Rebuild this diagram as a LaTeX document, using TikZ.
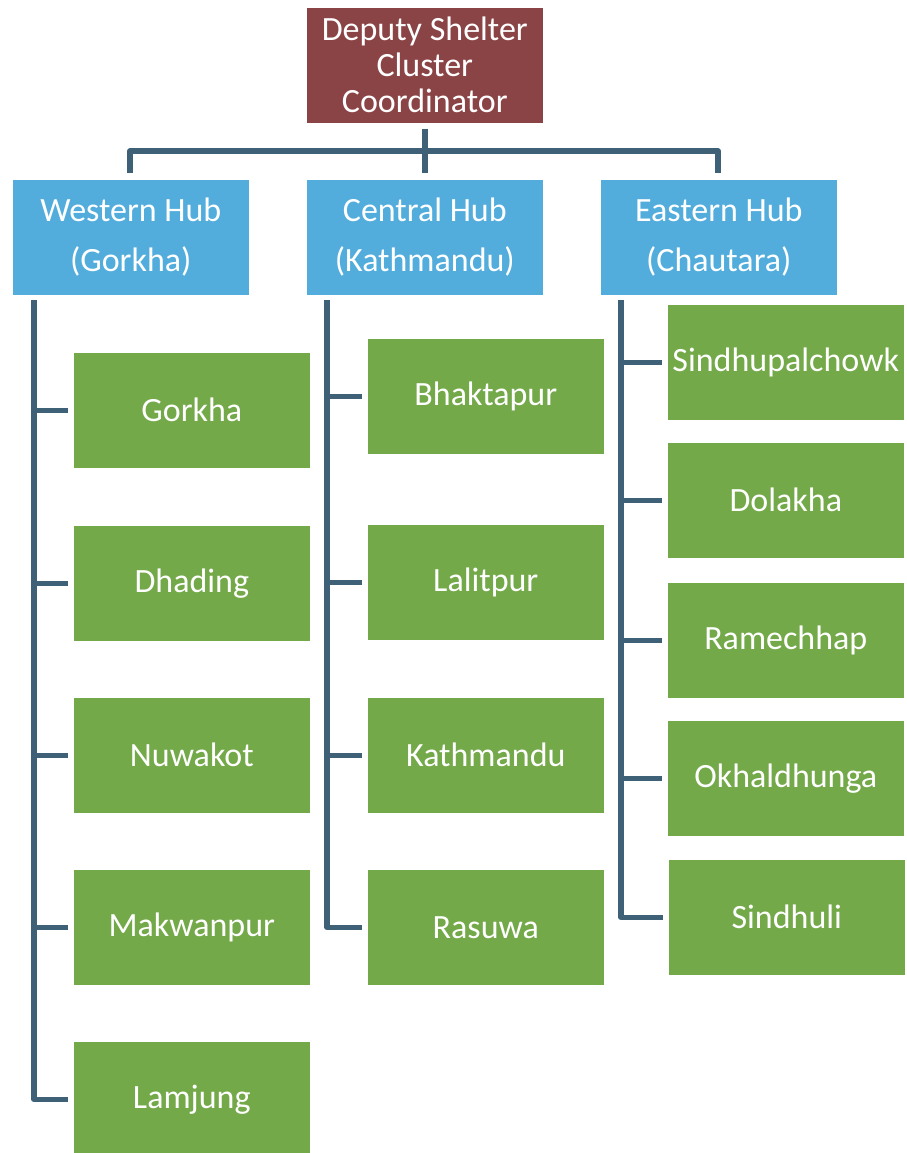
\documentclass[tikz,border=0pt]{standalone}
\usepackage{fontspec}
\setmainfont{Carlito}
\definecolor{maroon}{HTML}{8A4446}
\definecolor{hubblue}{HTML}{52ADDC}
\definecolor{distgreen}{HTML}{74A94A}
\definecolor{linec}{HTML}{3E6177}
\begin{document}
\begin{tikzpicture}[x=1pt,y=-1pt,
  boxbase/.style={anchor=north west,minimum width=237pt,minimum height=116pt,inner sep=0pt,draw=white,line width=0.6pt,text=white,align=center,font=\fontsize{34}{36}\selectfont},
  topbox/.style={boxbase,fill=maroon},
  hubbox/.style={boxbase,fill=hubblue},
  distbox/.style={boxbase,fill=distgreen},
  conn/.style={draw=linec,line width=5.5pt,line join=round}]
\useasboundingbox (0,0) rectangle (906,1153);
% top
\node[topbox] (top) at (306,7) {Deputy Shelter\\Cluster\\Coordinator};
% hubs
\node[hubbox] (west) at (12,179) {Western Hub\\[14pt](Gorkha)};
\node[hubbox] (cent) at (306,179) {Central Hub\\[14pt](Kathmandu)};
\node[hubbox] (east) at (600,179) {Eastern Hub\\[14pt](Chautara)};
% western districts
\node[distbox] (w1) at (73,352) {Gorkha};
\node[distbox] (w2) at (73,525) {Dhading};
\node[distbox] (w3) at (73,697) {Nuwakot};
\node[distbox] (w4) at (73,869) {Makwanpur};
\node[distbox] (w5) at (73,1041) {Lamjung};
% central districts
\node[distbox] (c1) at (367,338) {Bhaktapur};
\node[distbox] (c2) at (367,524) {Lalitpur};
\node[distbox] (c3) at (367,697) {Kathmandu};
\node[distbox] (c4) at (367,869) {Rasuwa};
% eastern districts
\node[distbox] (e1) at (667,304) {Sindhupalchowk};
\node[distbox] (e2) at (667,442) {Dolakha};
\node[distbox] (e3) at (667,582) {Ramechhap};
\node[distbox] (e4) at (667,720) {Okhaldhunga};
\node[distbox] (e5) at (668,859) {Sindhuli};
% top connectors
\draw[conn] ([yshift=-5pt]top.south) -- ([yshift=6pt]cent.north);
\draw[conn] ([yshift=6pt]west.north -| 130,0) -- (130,151) -- (718,151) -- ([yshift=6pt]east.north -| 718,0);
% western
\coordinate (wtop) at (34,300);
\draw[conn] (wtop) -- (34,0 |- w5.west) -- ([xshift=-5pt]w5.west);
\foreach \n in {w1,w2,w3,w4} \draw[conn] (34,0 |- \n.west) -- ([xshift=-5pt]\n.west);
% central
\coordinate (ctop) at (327,300);
\draw[conn] (ctop) -- (327,0 |- c4.west) -- ([xshift=-5pt]c4.west);
\foreach \n in {c1,c2,c3} \draw[conn] (327,0 |- \n.west) -- ([xshift=-5pt]\n.west);
% eastern
\coordinate (etop) at (621,300);
\draw[conn] (etop) -- (621,0 |- e5.west) -- ([xshift=-5pt]e5.west);
\foreach \n in {e1,e2,e3,e4} \draw[conn] (621,0 |- \n.west) -- ([xshift=-5pt]\n.west);
\end{tikzpicture}
\end{document}
